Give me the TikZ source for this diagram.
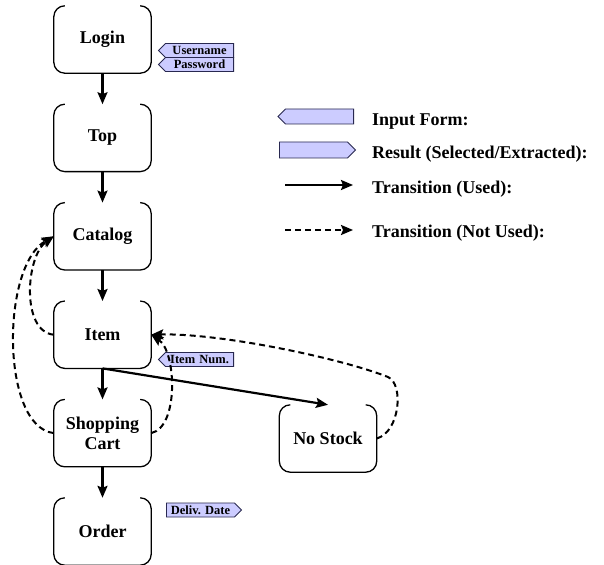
\documentclass[tikz,border=0pt]{standalone}
\usepackage{fontspec}
\setmainfont{Liberation Serif}
\usetikzlibrary{arrows.meta,positioning,shapes.symbols}
\definecolor{formfill}{RGB}{204,204,255}
\definecolor{formline}{RGB}{40,40,80}
\tikzstyle{page} = [rectangle, minimum width=97pt, minimum height=67pt, inner sep=0pt, align=center, font=\fontsize{18}{20.5}\selectfont\bfseries]
\tikzstyle{pageline} = [line width=1.3pt, rounded corners=11pt]
\tikzstyle{form} = [signal, signal to=west, draw=formline, fill=formfill, line width=0.9pt, text width=64pt, align=center, inner xsep=2pt, inner ysep=0pt, minimum height=14pt, signal pointer angle=90, font=\fontsize{12.5}{13}\selectfont\bfseries]
\tikzstyle{result} = [form, signal to=east]
\tikzstyle{used} = [line width=2.2pt, -{Stealth[length=12pt,width=10pt,inset=2pt]}]
\tikzstyle{notused} = [used, line width=2pt, dash pattern=on 6pt off 4pt]
\tikzstyle{legendtext} = [anchor=base west, inner sep=0pt, font=\fontsize{18}{20}\selectfont\bfseries]

\begin{document}
\frenchspacing
\begin{tikzpicture}[x=1pt, y=-1pt, node distance=31pt]
\useasboundingbox (0,0) rectangle (604,564);

% pages
\node[page] (login) at (102.5,39.5) {Login};
\node[page, below=of login] (top) {Top};
\node[page, below=of top] (catalog) {Catalog};
\node[page, below=of catalog] (item) {Item};
\node[page, below=of item] (cart) {Shopping\\Cart};
\node[page, below=of cart] (order) {Order};
\node[page] (nostock) at (328,438.5) {No Stock};
\foreach \p in {login,top,catalog,item,cart,order,nostock}
  \draw[pageline] ([xshift=11pt]\p.north west) -- (\p.north west) -- (\p.south west)
    -- (\p.south east) -- (\p.north east) -- ([xshift=-11pt]\p.north east);

% input forms and results
\node[form, anchor=east] (username) at (234,50.5) {Username};
\node[form, anchor=east] (password) at (234,64.5) {Password};
\node[form, anchor=east] (itemnum) at (234,359.5) {Item Num.};
\node[result, anchor=west] (delivdate) at (166,510) {Deliv. Date};

% transitions
\draw[used] (login) -- (top);
\draw[used] (top) -- (catalog);
\draw[used] (catalog) -- (item);
\draw[used] (item) -- (cart);
\draw[used] (cart) -- (order);
\draw[used] (item.south) -- (nostock.north);
\draw[notused] (item.west) .. controls +(-33,-3) and +(-28,20) .. (catalog.west);
\draw[notused] (cart.west) .. controls +(-53,-6) and +(-53,30) .. (catalog.west);
\draw[notused] (cart.east) .. controls +(28,-6) and +(25,17) .. (item.east);
\coordinate (turn) at (388,377);
\draw[notused] (nostock.east) .. controls (400,432) and (404,384) .. (turn)
  .. controls (340,358) and (220,333) .. (item.east);

% legend
\node[form, anchor=east, minimum height=15pt] (inputicon) at (354,116.5) {};
\node[result, anchor=west, minimum height=16pt] (resulticon) at (279,150) {};
\coordinate (usedfrom) at (285,185);
\coordinate (usedto) at (353,185);
\coordinate (notusedfrom) at (285,230);
\coordinate (notusedto) at (353,230);
\draw[used] (usedfrom) -- (usedto);
\draw[notused] (notusedfrom) -- (notusedto);
\node[legendtext] (inputtxt) at (372,126) {Input Form:};
\node[legendtext] (resulttxt) at (372,158) {Result (Selected/Extracted):};
\node[legendtext] (usedtxt) at (372,193) {Transition (Used):};
\node[legendtext] (notusedtxt) at (372,237) {Transition (Not Used):};
\end{tikzpicture}
\end{document}
